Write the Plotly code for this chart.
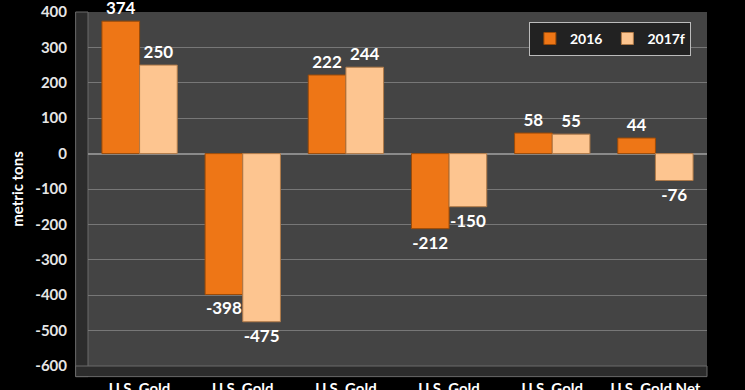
import plotly.graph_objects as go

categories = ["U.S. Gold<br>Imports", "U.S. Gold<br>Exports", "U.S. Gold<br>Mine Output",
              "U.S. Gold<br>Scrap", "U.S. Gold<br>Investment", "U.S. Gold Net<br>Balance"]
values_2016 = [374, -398, 222, -212, 58, 44]
values_2017f = [250, -475, 244, -150, 55, -76]
y_ticks = [400, 300, 200, 100, 0, -100, -200, -300, -400, -500, -600]

FONT = "Lato"
fig = go.Figure()
fig.add_trace(go.Bar(
    name="2016", x=categories, y=values_2016,
    marker=dict(color="#EE7616", line=dict(color="#9a4a08", width=1)),
    text=[str(v) for v in values_2016], textposition="outside",
    textfont=dict(family=FONT, size=17, color="white", weight="bold"), cliponaxis=False,
))
fig.add_trace(go.Bar(
    name="2017f", x=categories, y=values_2017f,
    marker=dict(color="#FDC590", line=dict(color="#b07a48", width=1)),
    text=[str(v) for v in values_2017f], textposition="outside",
    textfont=dict(family=FONT, size=17, color="white", weight="bold"), cliponaxis=False,
))

# left 3D-style wall and floor decoration
fig.add_shape(type="rect", xref="paper", yref="paper", x0=-0.02, x1=0.0, y0=-0.03, y1=1,
              fillcolor="#2c2c2c", line=dict(color="#6a6a6a", width=1), layer="below")
fig.add_shape(type="rect", xref="paper", yref="paper", x0=-0.02, x1=1.0, y0=-0.03, y1=0.0,
              fillcolor="#2c2c2c", line=dict(color="#6a6a6a", width=1), layer="below")

fig.update_layout(
    width=745, height=390,
    paper_bgcolor="black", plot_bgcolor="#444444",
    margin=dict(l=88, r=38, t=12, b=24),
    barmode="group", bargap=0.27, bargroupgap=0.0,
    font=dict(family=FONT, color="white"),
    showlegend=True,
    legend=dict(orientation="h", x=0.974, y=0.972, xanchor="right", yanchor="top",
                bgcolor="#222222", bordercolor="#bbbbbb", borderwidth=1,
                font=dict(family=FONT, size=14, color="white", weight="bold"), itemwidth=30,
                traceorder="normal"),
)
fig.update_yaxes(
    range=[-600, 400], tickvals=y_ticks, ticktext=[str(v) for v in y_ticks],
    tickfont=dict(family=FONT, size=15, color="#e6e6e6", weight="bold"),
    gridcolor="#777777", gridwidth=1, zeroline=True, zerolinecolor="#8a8a8a", zerolinewidth=2,
    title=dict(text="metric tons", font=dict(family=FONT, size=15, color="white", weight="bold"), standoff=8),
    ticks="", showline=False, automargin=False, ticklabelstandoff=20, ticklabeloverflow="allow",
)
fig.update_xaxes(
    tickfont=dict(family=FONT, size=15, color="white", weight="bold"),
    showgrid=False, ticks="", showline=False, automargin=False, ticklabelstandoff=12,
    ticklabeloverflow="allow",
)
fig.write_html("out.html", config={"displayModeBar": False},
               post_script="document.body.style.margin='0';document.body.style.background='black';")
